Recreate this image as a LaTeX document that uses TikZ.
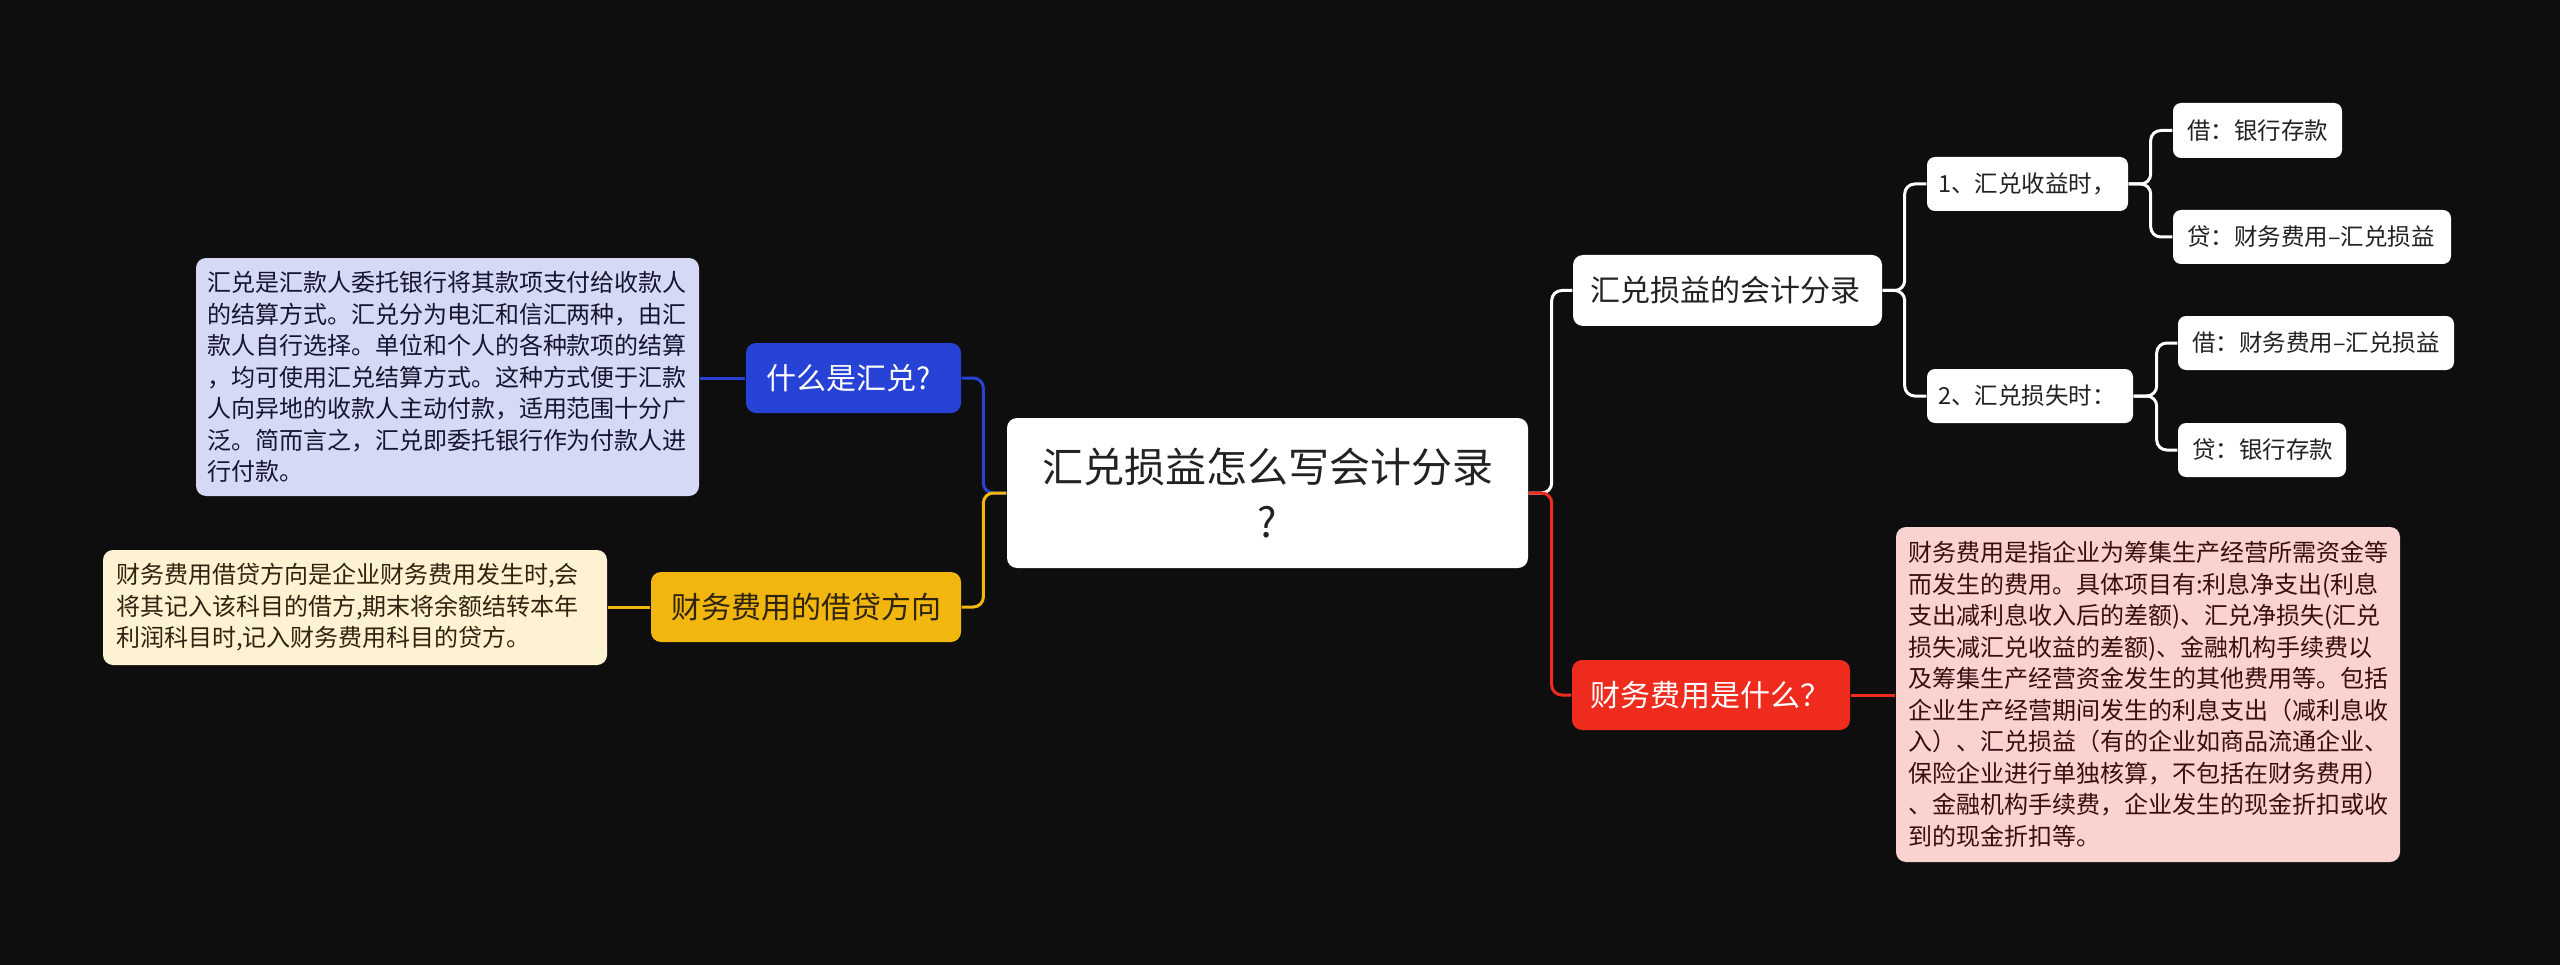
\documentclass[tikz,border=0pt]{standalone}
\usepackage{fontspec}
\setmainfont{Noto Sans CJK SC}
\definecolor{bg}{HTML}{0E0E0E}
\definecolor{blueC}{HTML}{2643D6}
\definecolor{blueL}{HTML}{D5D9F6}
\definecolor{blueT}{HTML}{15152E}
\definecolor{yelC}{HTML}{F2B70E}
\definecolor{yelL}{HTML}{FDF2D1}
\definecolor{yelT}{HTML}{2E2410}
\definecolor{redC}{HTML}{EE2B1D}
\definecolor{redL}{HTML}{FAD3D0}
\definecolor{redT}{HTML}{3B0D0D}
\definecolor{darkT}{HTML}{222222}
\tikzset{
  box/.style={rectangle, rounded corners=3pt, inner sep=0pt, align=left},
  rootbox/.style={box, fill=white, text=darkT, align=center,
    font=\fontsize{12.3pt}{16.5pt}\selectfont},
  mainbox/.style={box, font=\fontsize{9pt}{11pt}\selectfont},
  subbox/.style={box, fill=white, text=darkT, rounded corners=2.4pt,
    font=\fontsize{7.05pt}{9pt}\selectfont},
  detailbox/.style={box, font=\fontsize{7.2pt}{9.45pt}\selectfont},
  link/.style={line width=0.9pt, rounded corners=3pt},
}
\begin{document}
\begin{tikzpicture}[x=0.3pt, y=-0.3pt]
\fill[bg] (0,0) rectangle (2560,965);
\useasboundingbox (0,0) rectangle (2560,965);

% root
\node[rootbox, minimum width=156.3pt, minimum height=45pt, text width=150pt] (root) at (1267.5,493) {汇兑损益怎么写会计分录\\?};

% left branch
\node[mainbox, fill=blueC, text=white, minimum width=64.5pt, minimum height=21pt, text width=52.5pt] (q1) at (853.5,378) {什么是汇兑?};
\node[detailbox, fill=blueL, text=blueT, minimum width=150.9pt, minimum height=71.4pt, text width=144.3pt] (d1) at (447.5,377) {汇兑是汇款人委托银行将其款项支付给收款人\\的结算方式。汇兑分为电汇和信汇两种，由汇\\款人自行选择。单位和个人的各种款项的结算\\，均可使用汇兑结算方式。这种方式便于汇款\\人向异地的收款人主动付款，适用范围十分广\\泛。简而言之，汇兑即委托银行作为付款人进\\行付款。};

\node[mainbox, fill=yelC, text=yelT, minimum width=93pt, minimum height=21pt, text width=81pt] (q2) at (806,607) {财务费用的借贷方向};
\node[detailbox, fill=yelL, text=yelT, minimum width=151.2pt, minimum height=34.5pt, text width=143.4pt] (d2) at (355,607.5) {财务费用借贷方向是企业财务费用发生时,会\\将其记入该科目的借方,期末将余额结转本年\\利润科目时,记入财务费用科目的贷方。};

% right branch
\node[mainbox, fill=white, text=darkT, minimum width=92.7pt, minimum height=21.3pt, text width=82.5pt] (q3) at (1727.5,290.5) {汇兑损益的会计分录};
\node[mainbox, fill=redC, text=white, minimum width=83.4pt, minimum height=21pt, text width=72.6pt] (q4) at (1711,695) {财务费用是什么？};
\node[detailbox, fill=redL, text=redT, minimum width=151.2pt, minimum height=100.5pt, text width=144pt] (d4) at (2148,694.5) {财务费用是指企业为筹集生产经营所需资金等\\而发生的费用。具体项目有:利息净支出(利息\\支出减利息收入后的差额)、汇兑净损失(汇兑\\损失减汇兑收益的差额)、金融机构手续费以\\及筹集生产经营资金发生的其他费用等。包括\\企业生产经营期间发生的利息支出（减利息收\\入）、汇兑损益（有的企业如商品流通企业、\\保险企业进行单独核算，不包括在财务费用）\\、金融机构手续费，企业发生的现金折扣或收\\到的现金折扣等。};

\node[subbox, minimum width=60.3pt, minimum height=16.2pt, text width=53.7pt] (s1) at (2027.5,184) {1、汇兑收益时，};
\node[subbox, minimum width=50.7pt, minimum height=16.5pt, text width=42.3pt] (s11) at (2257.5,130.5) {借：银行存款};
\node[subbox, minimum width=83.4pt, minimum height=16.2pt, text width=75pt] (s12) at (2312,237) {贷：财务费用–汇兑损益};
\node[subbox, minimum width=61.8pt, minimum height=16.2pt, text width=55.2pt] (s2) at (2030,396) {2、汇兑损失时：};
\node[subbox, minimum width=82.8pt, minimum height=16.2pt, text width=74.4pt] (s21) at (2316,343) {借：财务费用–汇兑损益};
\node[subbox, minimum width=50.4pt, minimum height=16.2pt, text width=42pt] (s22) at (2262,450) {贷：银行存款};

% connectors
\draw[link, blueC] (root.west) -- ++(-23,0) |- (q1.east);
\draw[link, yelC] (root.west) -- ++(-23,0) |- (q2.east);
\draw[link, blueC] (q1.west) -- (d1.east |- q1.west);
\draw[link, yelC] (q2.west) -- (d2.east |- q2.west);

\draw[link, white] (root.east) -- ++(23,0) |- (q3.west);
\draw[link, redC] (root.east) -- ++(23,0) |- (q4.west);
\draw[link, redC] (q4.east) -- (d4.west |- q4.east);

\draw[link, white] (q3.east) -- ++(22,0) |- (s1.west);
\draw[link, white] (q3.east) -- ++(22,0) |- (s2.west);
\draw[link, white] (s1.east) -- ++(22,0) |- (s11.west);
\draw[link, white] (s1.east) -- ++(22,0) |- (s12.west);
\draw[link, white] (s2.east) -- ++(23,0) |- (s21.west);
\draw[link, white] (s2.east) -- ++(23,0) |- (s22.west);
\end{tikzpicture}
\end{document}
